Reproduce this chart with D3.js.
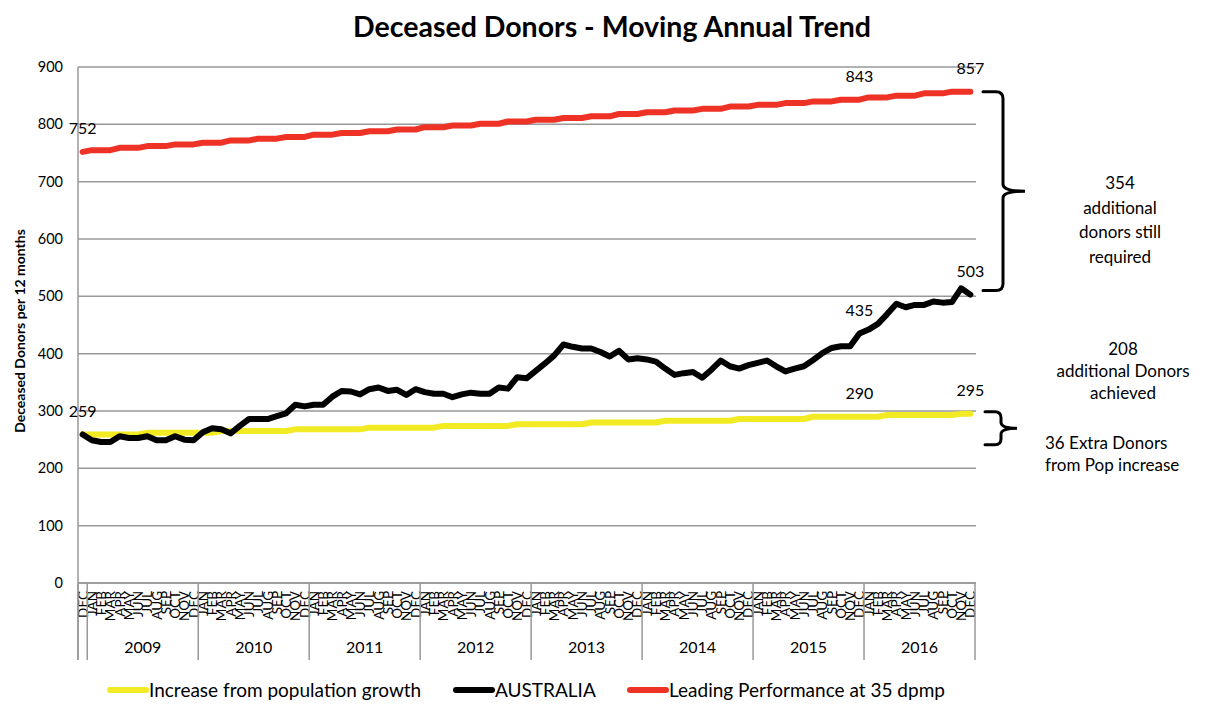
<!DOCTYPE html>
<html><head><meta charset="utf-8">
<script src="https://cdn.jsdelivr.net/npm/d3@7"></script>
<style>
body{margin:0;background:#fff}
svg{display:block}
text{font-family:Lato,"Open Sans",sans-serif;fill:#000}
</style>
</head><body>
<svg id="chart" width="1214" height="715"></svg>
<script>
// ---------- DATA ----------
const monthNames = ["JAN","FEB","MAR","APR","MAY","JUN","JUL","AUG","SEP","OCT","NOV","DEC"];
const years = ["2009","2010","2011","2012","2013","2014","2015","2016"];
const firstCategory = {month:"DEC", year:"2008"};
const yTicks = [0,100,200,300,400,500,600,700,800,900];

const popGrowth = [
259,259,259,259,259,259,259,
262,262,262,262,262,262,262,262,
265,265,265,265,265,265,265,265,
268,268,268,268,268,268,268,268,
271,271,271,271,271,271,271,271,
274,274,274,274,274,274,274,274,
277,277,277,277,277,277,277,277,
280,280,280,280,280,280,280,280,
283,283,283,283,283,283,283,283,
286,286,286,286,286,286,286,286,
290,290,290,290,290,290,290,290,
293,293,293,293,293,293,293,293,
295,295];

const australia = [
259,249,246,246,256,253,253,256,249,249,256,250,249,
263,270,268,261,274,286,286,286,291,296,311,308,
311,311,325,335,334,329,338,341,335,337,328,338,
333,330,330,324,329,332,330,330,341,339,359,357,
370,383,397,416,412,409,409,403,395,405,390,392,
390,386,374,363,366,368,358,372,388,378,374,380,
384,388,378,369,374,378,389,401,410,413,413,435,
442,452,469,487,481,485,485,491,489,490,514,503];

const leading = [
752,
755,755,755,759,759,759,762,762,762,765,765,765,
768,768,768,772,772,772,775,775,775,778,778,778,
782,782,782,785,785,785,788,788,788,791,791,791,
795,795,795,798,798,798,801,801,801,805,805,805,
808,808,808,811,811,811,814,814,814,818,818,818,
821,821,821,824,824,824,827,827,827,831,831,831,
834,834,834,837,837,837,840,840,840,843,843,843,
847,847,847,850,850,850,854,854,854,857,857,857];

const seriesNames = ["Increase from population growth","AUSTRALIA","Leading Performance at 35 dpmp"];
const seriesColors = ["#F2EA22","#000000","#EE3226"];
const seriesData = [popGrowth, australia, leading];
// indices of points with data labels, per series
const labelIdx = [[0,84,96],[84,96],[0,84,96]];

const annotations = [
  {lines:["354","additional","donors still","required"]},
  {lines:["208","additional Donors","achieved"]},
  {lines:["36 Extra Donors","from Pop increase"]}
];

// ---------- LAYOUT ----------
const svg = d3.select("#chart");
const plot = {left:78, right:975, top:67, bottom:583};

const categories = [firstCategory.month + " " + firstCategory.year]
  .concat(years.flatMap(y => monthNames.map(m => m + " " + y)));
const catMonth = [firstCategory.month].concat(years.flatMap(() => monthNames));

const x = d3.scaleBand().domain(categories).range([plot.left, plot.right]).padding(0);
const bw = x.bandwidth();
const cx = i => x(categories[i]) + bw/2;
const y = d3.scaleLinear().domain([0,900]).range([plot.bottom, plot.top]);

// title
svg.append("text").attr("x", 612).attr("y", 37).attr("text-anchor","middle")
  .style("font-weight","bold").style("font-size","28.5px")
  .text("Deceased Donors - Moving Annual Trend");

// gridlines
svg.append("g").selectAll("line").data(yTicks).join("line")
  .attr("x1", plot.left).attr("x2", plot.right+1)
  .attr("y1", d => y(d)).attr("y2", d => y(d))
  .attr("stroke","#989898").attr("stroke-width",1.5);

// y axis
const yAxis = d3.axisLeft(y).tickValues(yTicks).tickSize(0).tickPadding(15);
const yg = svg.append("g").attr("transform",`translate(${plot.left},0)`).call(yAxis);
yg.select(".domain").remove();
yg.selectAll("text").style("font-size","14.5px").style("font-family","Lato, sans-serif").attr("fill","#000");

// left axis line (extends through category area)
svg.append("line").attr("x1",plot.left).attr("x2",plot.left)
  .attr("y1",plot.top).attr("y2",660).attr("stroke","#989898").attr("stroke-width",1.5);

// y title
svg.append("text").attr("transform",`translate(25,${(plot.top+plot.bottom)/2+6}) rotate(-90)`)
  .attr("text-anchor","middle").style("font-weight","bold").style("font-size","14px")
  .text("Deceased Donors per 12 months");

// x axis month labels
svg.append("g").selectAll("text").data(categories).join("text")
  .attr("transform",(d,i) => `translate(${cx(i)},${plot.bottom+8}) rotate(-90)`)
  .attr("text-anchor","end").attr("dominant-baseline","central")
  .style("font-size","13.5px")
  .text((d,i) => catMonth[i]);

// group separators
const sepX = [plot.left, x(categories[1])].concat(years.map((yr,k) => x(categories[1+12*k]) + 12*bw));
svg.append("g").selectAll("line").data(sepX).join("line")
  .attr("x1",d=>d).attr("x2",d=>d).attr("y1",plot.bottom).attr("y2",660)
  .attr("stroke","#989898").attr("stroke-width",1.5);
// year labels
svg.append("g").selectAll("text").data(years).join("text")
  .attr("x",(d,k) => x(categories[1+12*k]) + 6*bw).attr("y",653)
  .attr("text-anchor","middle").style("font-size","16px").text(d=>d);

// x axis baseline
svg.append("line").attr("x1",plot.left).attr("x2",plot.right+1)
  .attr("y1",plot.bottom).attr("y2",plot.bottom).attr("stroke","#989898").attr("stroke-width",1.5);

// lines
const line = d3.line().x((d,i)=>cx(i)).y(d=>y(d));
seriesData.forEach((data,s) => {
  svg.append("path").datum(data).attr("d",line).attr("fill","none")
    .attr("stroke",seriesColors[s]).attr("stroke-width",6)
    .attr("stroke-linejoin","round").attr("stroke-linecap","round");
});

// data labels
seriesData.forEach((data,s) => {
  svg.append("g").selectAll("text").data(labelIdx[s]).join("text")
    .attr("x", i => cx(i)).attr("y", i => y(data[i]) - 18)
    .attr("text-anchor","middle").style("font-size","16px")
    .text(i => data[i]);
});

// braces
function brace(xl, xv, xt, yt, yb, r) {
  const ym = (yt+yb)/2;
  return `M${xl},${yt} L${xv-r},${yt} Q${xv},${yt} ${xv},${yt+r} L${xv},${ym-r} Q${xv},${ym} ${xt},${ym} `+
         `Q${xv},${ym} ${xv},${ym+r} L${xv},${yb-r} Q${xv},${yb} ${xv-r},${yb} L${xl},${yb}`;
}
const lastI = categories.length-1;
svg.append("path").attr("d", brace(983, 1003, 1025, y(leading[lastI]), y(australia[lastI])-4, 7))
  .attr("fill","none").attr("stroke","#000").attr("stroke-width",3).attr("stroke-linecap","round");
svg.append("path").attr("d", brace(985, 1001, 1017, y(popGrowth[lastI])-2, y(popGrowth[lastI])+31, 6))
  .attr("fill","none").attr("stroke","#000").attr("stroke-width",3).attr("stroke-linecap","round");

// annotation text
const ann1 = svg.append("text").attr("text-anchor","middle").style("font-size","17px");
annotations[0].lines.forEach((t,k) => ann1.append("tspan").attr("x",1120).attr("y",189+k*24.5).text(t));
const ann2 = svg.append("text").attr("text-anchor","middle").style("font-size","17px");
annotations[1].lines.forEach((t,k) => ann2.append("tspan").attr("x",1123).attr("y",355+k*22).text(t));
const ann3 = svg.append("text").attr("text-anchor","start").style("font-size","17px");
annotations[2].lines.forEach((t,k) => ann3.append("tspan").attr("x",1045).attr("y",449+k*22).text(t));

// legend
const legX = [110, 456, 630];
seriesNames.forEach((n,s) => {
  const g = svg.append("g");
  g.append("line").attr("x1",legX[s]).attr("x2",legX[s]+36).attr("y1",690).attr("y2",690)
    .attr("stroke",seriesColors[s]).attr("stroke-width",6).attr("stroke-linecap","round");
  g.append("text").attr("x",legX[s]+39).attr("y",696.5).style("font-size","19px").text(n);
});
</script>
</body></html>
